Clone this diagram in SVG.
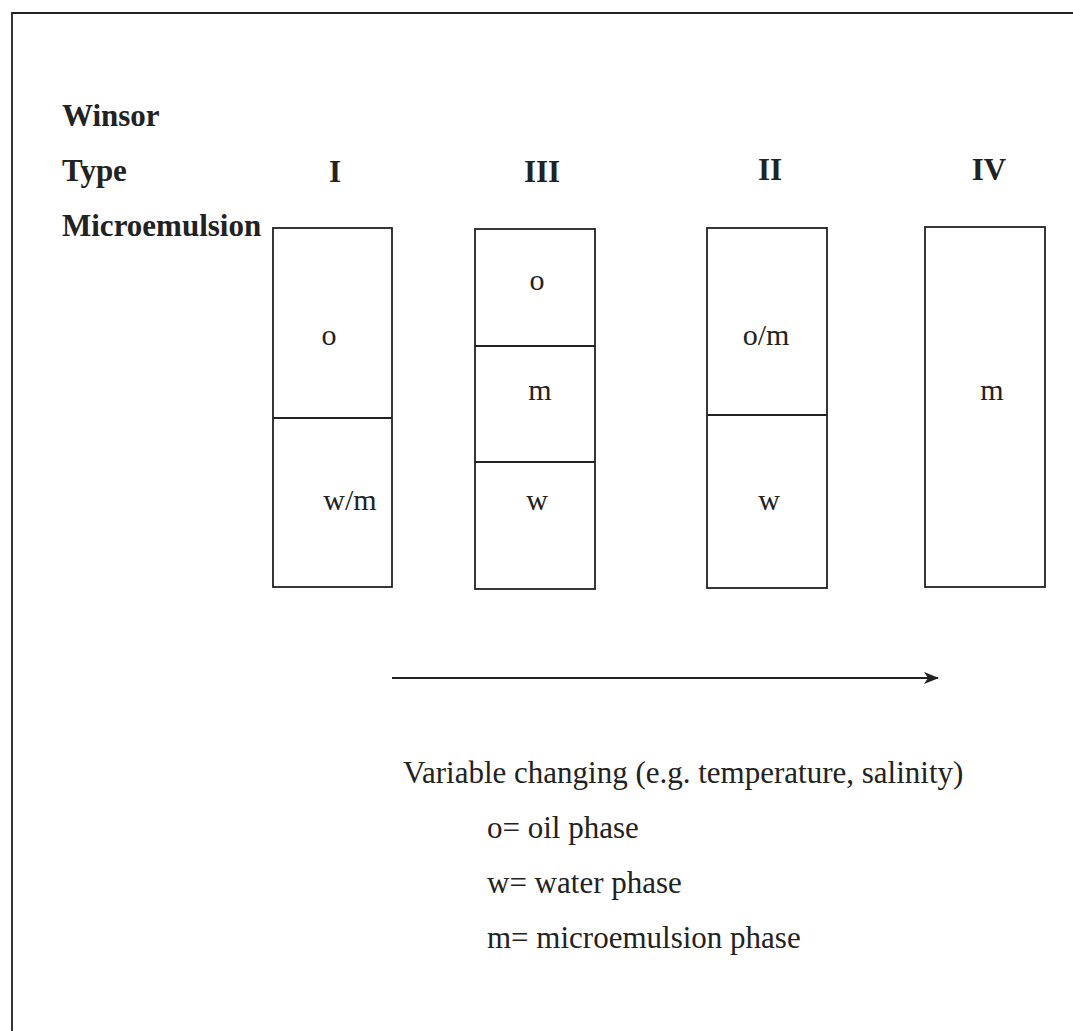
<svg xmlns="http://www.w3.org/2000/svg" width="1073" height="1031" viewBox="0 0 1073 1031">
<defs>
<style>
.frame{fill:none;stroke:#222;stroke-width:1.8}
.box{fill:none;stroke:#222;stroke-width:1.8}
.bold{font-family:"Liberation Serif","Times New Roman",serif;font-weight:bold;font-size:31px;fill:#222}
.lab{font-family:"Liberation Serif","Times New Roman",serif;font-size:30px;fill:#222;text-anchor:middle}
.txt{font-family:"Liberation Serif","Times New Roman",serif;font-size:31px;fill:#222}
</style>
<marker id="ah" markerWidth="15" markerHeight="12" refX="14" refY="6" orient="auto" markerUnits="userSpaceOnUse">
<path d="M0,0 L15,6 L0,12 L4,6 Z" fill="#222"/>
</marker>
</defs>
<rect width="1073" height="1031" fill="#fff"/>
<path class="frame" d="M12,1031 L12,13 L1073,13"/>
<g id="header">
<text class="bold" x="62" y="126">Winsor</text>
<text class="bold" x="62" y="181">Type</text>
<text class="bold" x="62" y="236">Microemulsion</text>
</g>
<g id="typeI">
<text class="bold" x="335" y="182" text-anchor="middle">I</text>
<rect class="box" x="273" y="228" width="119" height="359"/>
<line class="box" x1="273" y1="418" x2="392" y2="418"/>
<text class="lab" x="329" y="345">o</text>
<text class="lab" x="350" y="510">w/m</text>
</g>
<g id="typeIII">
<text class="bold" x="542" y="182" text-anchor="middle">III</text>
<rect class="box" x="475" y="229" width="120" height="360"/>
<line class="box" x1="475" y1="346" x2="595" y2="346"/>
<line class="box" x1="475" y1="462" x2="595" y2="462"/>
<text class="lab" x="537" y="290">o</text>
<text class="lab" x="540" y="400">m</text>
<text class="lab" x="537" y="510">w</text>
</g>
<g id="typeII">
<text class="bold" x="770" y="180" text-anchor="middle">II</text>
<rect class="box" x="707" y="228" width="120" height="360"/>
<line class="box" x1="707" y1="415" x2="827" y2="415"/>
<text class="lab" x="766" y="345">o/m</text>
<text class="lab" x="769" y="510">w</text>
</g>
<g id="typeIV">
<text class="bold" x="989" y="180" text-anchor="middle">IV</text>
<rect class="box" x="925" y="227" width="120" height="360"/>
<text class="lab" x="992" y="400">m</text>
</g>
<g id="connectors">
<line x1="392" y1="678" x2="938" y2="678" stroke="#222" stroke-width="2" marker-end="url(#ah)"/>
</g>
<g id="legend">
<text class="txt" x="403" y="783">Variable changing (e.g. temperature, salinity)</text>
<text class="txt" x="487" y="838">o= oil phase</text>
<text class="txt" x="487" y="893">w= water phase</text>
<text class="txt" x="487" y="948">m= microemulsion phase</text>
</g>
</svg>
